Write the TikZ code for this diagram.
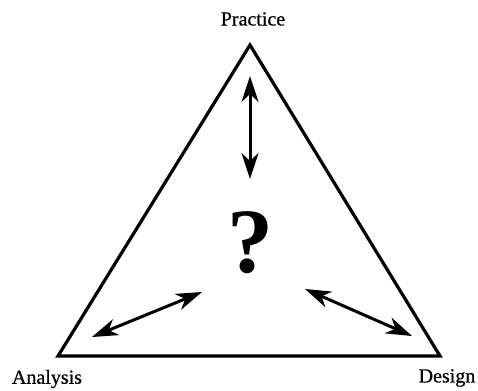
\documentclass[tikz,border=0pt]{standalone}
\usepackage{fontspec}
\setmainfont{Liberation Serif}
\newfontfamily\lblfont{Liberation Serif}[BoldFont={Liberation Serif},BoldFeatures={FakeBold=0.6}]
\usetikzlibrary{arrows.meta}
\begin{document}
\begin{tikzpicture}[x=1pt,y=-1pt,
  edge/.style={line width=3.2pt,line join=miter},
  tip/.tip={Stealth[length=26pt,width=17pt,inset=8pt]},
  dbl/.style={line width=3pt,tip-tip},
  lbl/.style={font=\lblfont\bfseries\fontsize{20}{22}\selectfont, inner sep=0pt}]
\useasboundingbox (0,0) rectangle (478,390);
\coordinate (P) at (250,45);
\coordinate (A) at (58,356);
\coordinate (D) at (440,356);
\draw[edge] (P) -- (A) -- (D) -- cycle;
\node[lbl] (tp) at (253,19) {Practice};
\node[lbl] (ta) at (47,379) {Analysis};
\node[lbl] (td) at (447,378) {Design};
\node[inner sep=0pt, font=\fontsize{92}{92}\selectfont\bfseries] (q) at (250,243) {?};
\coordinate (v1) at (250,76);
\coordinate (v2) at (250,179);
\coordinate (l1) at (92,337);
\coordinate (l2) at (202,292);
\coordinate (r1) at (305,289);
\coordinate (r2) at (412,336);
\draw[dbl] (v1) -- (v2);
\draw[dbl] (l1) -- (l2);
\draw[dbl] (r1) -- (r2);
\end{tikzpicture}
\end{document}
